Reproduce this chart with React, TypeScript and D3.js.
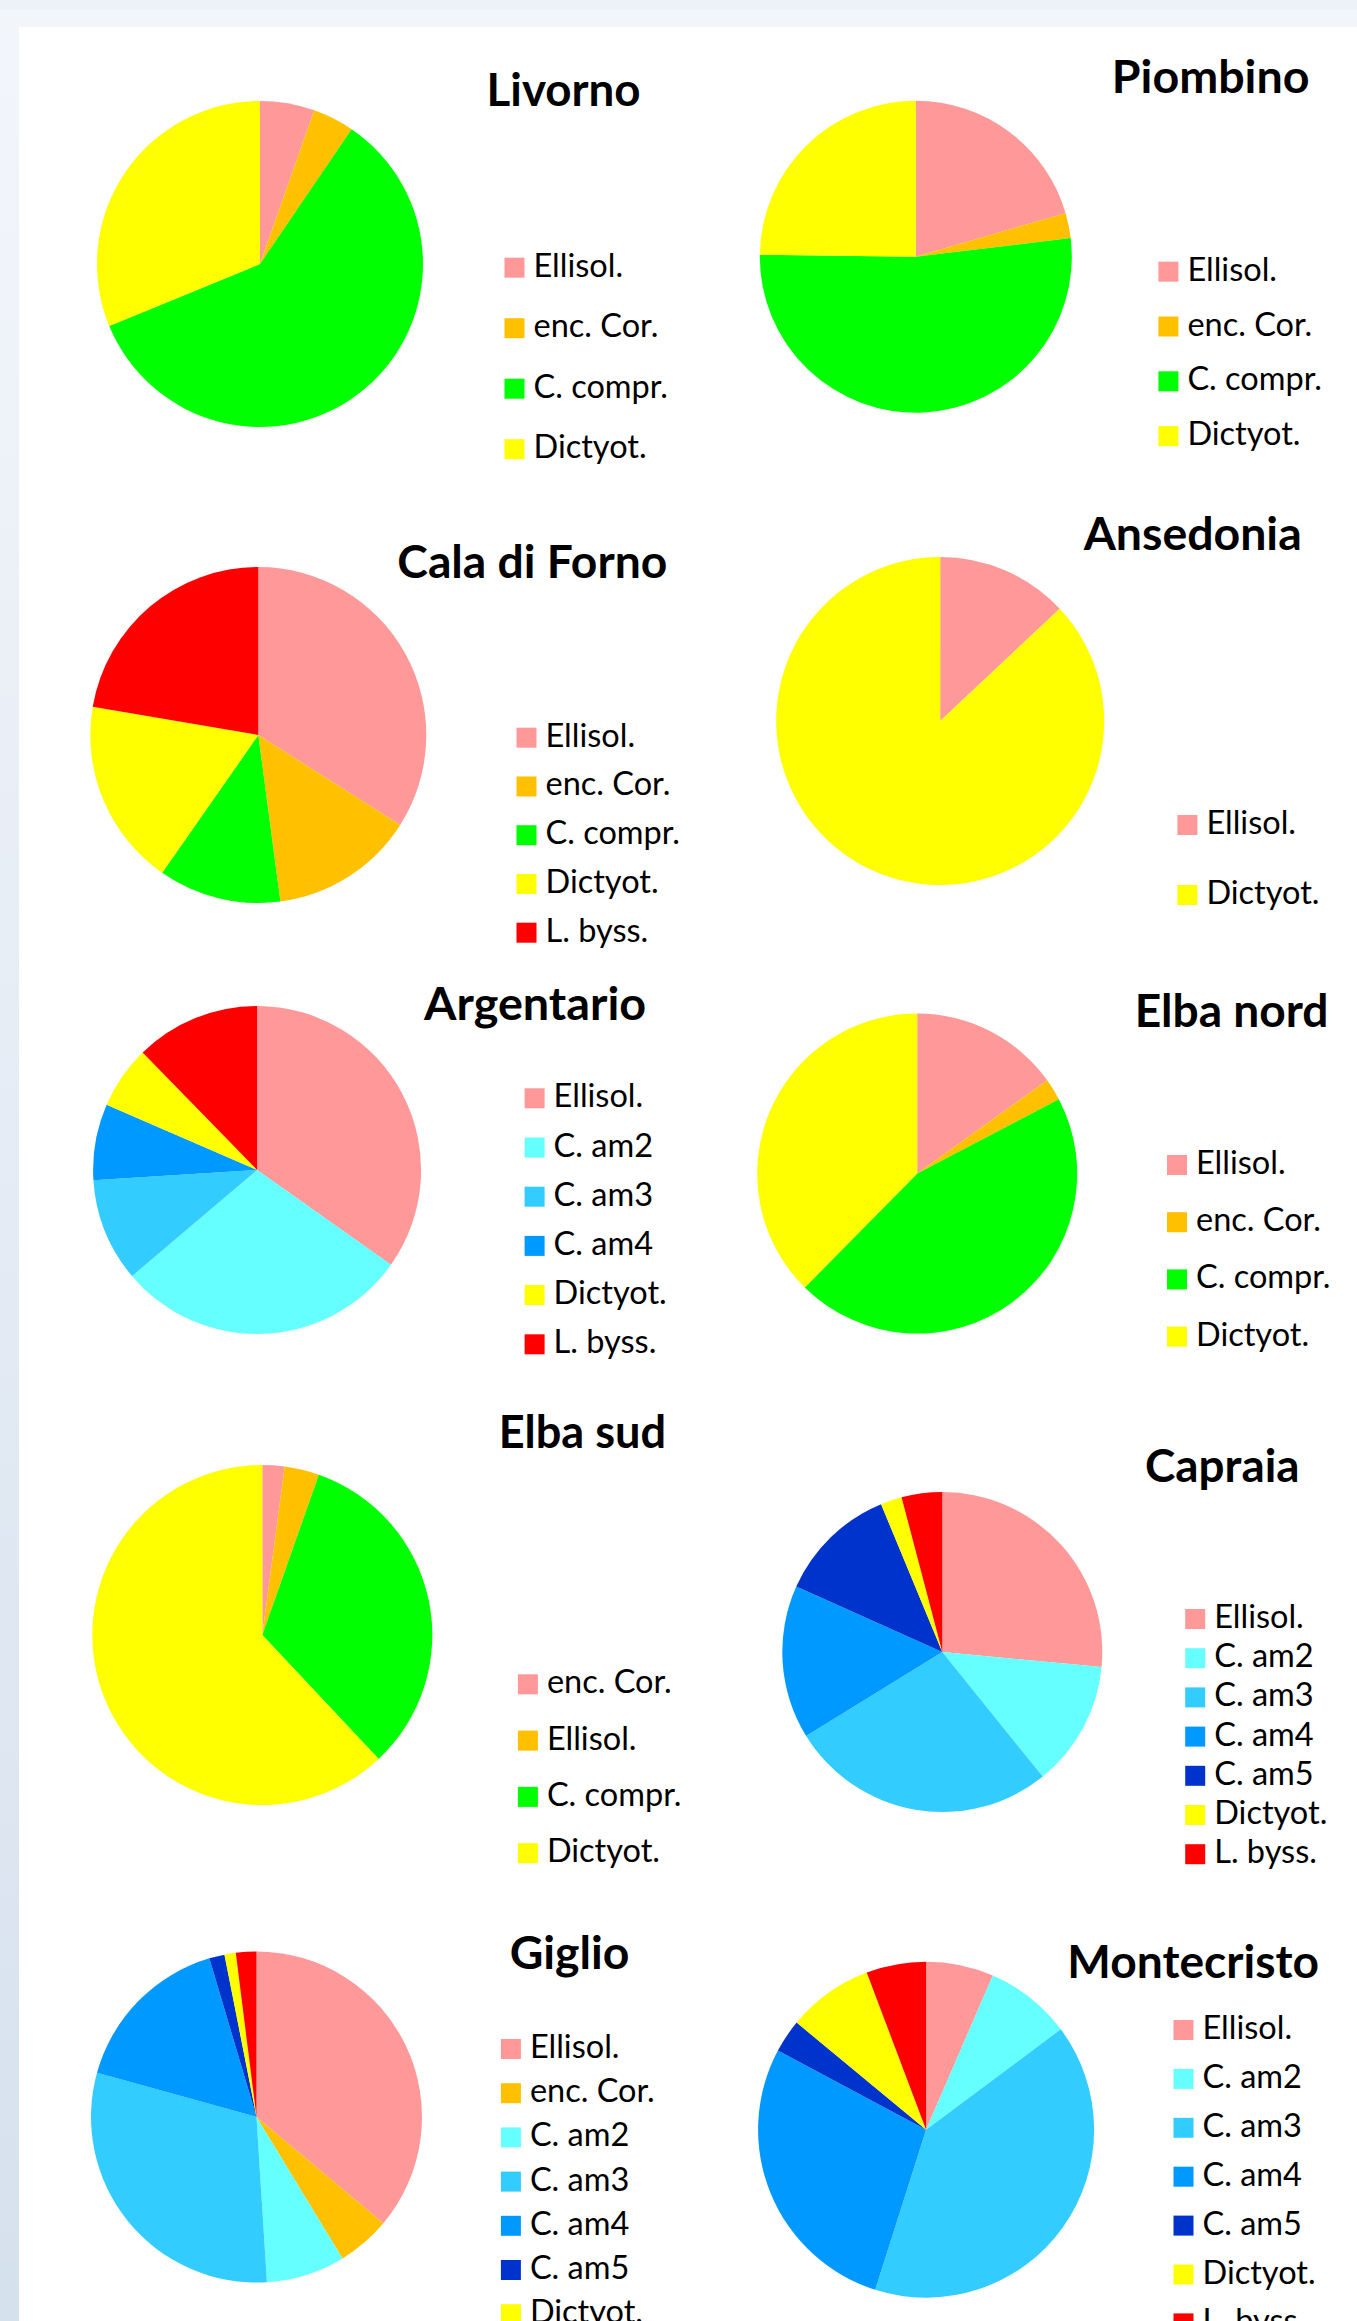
import React from "react";
import * as d3 from "d3";

// slice colours, keyed by taxon code
const colour: Record<string, string> = {
  ell: "#ff9999",
  enc: "#ffc000",
  cc: "#00ff00",
  dic: "#ffff00",
  lb: "#ff0000",
  am2: "#66ffff",
  am3: "#33ccff",
  am4: "#0099ff",
  am5: "#0033cc",
};

// --- data (percent of cover) ---
const livornoKeys = ["ell", "enc", "cc", "dic"];
const livornoLabels = ["Ellisol.", "enc. Cor.", "C. compr.", "Dictyot."];
const livornoValues = [5.4, 4.1, 59.3, 31.2];

const piombinoKeys = ["ell", "enc", "cc", "dic"];
const piombinoLabels = ["Ellisol.", "enc. Cor.", "C. compr.", "Dictyot."];
const piombinoValues = [20.5, 2.6, 52.1, 24.8];

const calaKeys = ["ell", "enc", "cc", "dic", "lb"];
const calaLabels = ["Ellisol.", "enc. Cor.", "C. compr.", "Dictyot.", "L. byss."];
const calaValues = [34.0, 13.9, 11.8, 18.0, 22.3];

const ansedoniaKeys = ["ell", "dic"];
const ansedoniaLabels = ["Ellisol.", "Dictyot."];
const ansedoniaValues = [13.0, 87.0];

const argentarioKeys = ["ell", "am2", "am3", "am4", "dic", "lb"];
const argentarioLabels = ["Ellisol.", "C. am2", "C. am3", "C. am4", "Dictyot.", "L. byss."];
const argentarioValues = [34.8, 29.0, 10.2, 7.5, 6.2, 12.3];

const elbaNordKeys = ["ell", "enc", "cc", "dic"];
const elbaNordLabels = ["Ellisol.", "enc. Cor.", "C. compr.", "Dictyot."];
const elbaNordValues = [15.1, 2.2, 45.1, 37.6];

// labels swapped in the original legend: pink is listed as enc. Cor.
const elbaSudKeys = ["ell", "enc", "cc", "dic"];
const elbaSudLabels = ["enc. Cor.", "Ellisol.", "C. compr.", "Dictyot."];
const elbaSudValues = [2.1, 3.3, 32.6, 62.0];

const capraiaKeys = ["ell", "am2", "am3", "am4", "am5", "dic", "lb"];
const capraiaLabels = ["Ellisol.", "C. am2", "C. am3", "C. am4", "C. am5", "Dictyot.", "L. byss."];
const capraiaValues = [26.5, 12.7, 27.0, 15.5, 12.05, 2.15, 4.1];

const giglioKeys = ["ell", "enc", "am2", "am3", "am4", "am5", "dic", "lb"];
const giglioLabels = ["Ellisol.", "enc. Cor.", "C. am2", "C. am3", "C. am4", "C. am5", "Dictyot.", "L. byss."];
const giglioValues = [36.1, 5.2, 7.7, 30.3, 16.1, 1.5, 1.1, 2.0];

const montecristoKeys = ["ell", "am2", "am3", "am4", "am5", "dic", "lb"];
const montecristoLabels = ["Ellisol.", "C. am2", "C. am3", "C. am4", "C. am5", "Dictyot.", "L. byss."];
const montecristoValues = [6.5, 8.3, 40.1, 27.9, 3.2, 8.25, 5.75];

type Site = {
  title: string;
  keys: string[];
  labels: string[];
  values: number[];
  // layout
  cx: number;
  cy: number;
  r: number;
  tx: number;
  ty: number;
  tw: number;
  lx: number;
  ly: number;
  step: number;
};

const sites: Site[] = [
  { title: "Livorno", keys: livornoKeys, labels: livornoLabels, values: livornoValues,
    cx: 260, cy: 264, r: 163, tx: 486.6, ty: 106, tw: 154, lx: 504.5, ly: 257.7, step: 60.5 },
  { title: "Piombino", keys: piombinoKeys, labels: piombinoLabels, values: piombinoValues,
    cx: 915.8, cy: 256.7, r: 156, tx: 1111.8, ty: 92.5, tw: 197.7, lx: 1158.4, ly: 261.7, step: 54.8 },
  { title: "Cala di Forno", keys: calaKeys, labels: calaLabels, values: calaValues,
    cx: 258.3, cy: 735, r: 168, tx: 397.3, ty: 578.3, tw: 270, lx: 516.5, ly: 727.7, step: 48.75 },
  { title: "Ansedonia", keys: ansedoniaKeys, labels: ansedoniaLabels, values: ansedoniaValues,
    cx: 940.2, cy: 721, r: 164, tx: 1083.7, ty: 550, tw: 218, lx: 1177.4, ly: 815, step: 70 },
  { title: "Argentario", keys: argentarioKeys, labels: argentarioLabels, values: argentarioValues,
    cx: 257.1, cy: 1170, r: 164, tx: 424.1, ty: 1020, tw: 222, lx: 524.6, ly: 1088.3, step: 49.2 },
  { title: "Elba nord", keys: elbaNordKeys, labels: elbaNordLabels, values: elbaNordValues,
    cx: 917.2, cy: 1173.6, r: 160, tx: 1134.7, ty: 1027.3, tw: 193.8, lx: 1167, ly: 1155, step: 57.2 },
  { title: "Elba sud", keys: elbaSudKeys, labels: elbaSudLabels, values: elbaSudValues,
    cx: 262.3, cy: 1635, r: 170, tx: 498.7, ty: 1447.7, tw: 167.3, lx: 517.9, ly: 1674.3, step: 56.3 },
  { title: "Capraia", keys: capraiaKeys, labels: capraiaLabels, values: capraiaValues,
    cx: 942.3, cy: 1652, r: 160, tx: 1145, ty: 1481.7, tw: 154.6, lx: 1185.2, ly: 1609, step: 39.2 },
  { title: "Giglio", keys: giglioKeys, labels: giglioLabels, values: giglioValues,
    cx: 256.5, cy: 2117, r: 165.5, tx: 509.8, ty: 1969.3, tw: 119.7, lx: 500.9, ly: 2039, step: 44.2 },
  { title: "Montecristo", keys: montecristoKeys, labels: montecristoLabels, values: montecristoValues,
    cx: 926.1, cy: 2129.7, r: 168, tx: 1067.3, ty: 1978.3, tw: 251.7, lx: 1173.5, ly: 2020, step: 48.9 },
];

const W = 1357;
const H = 2321;
const FONT = "Lato, 'Open Sans', sans-serif";

const pie = d3
  .pie<number>()
  .sort(null)
  .value((d) => d);

const PieChart = ({ site }: { site: Site }) => {
  const arcs = pie(site.values);
  const arc = d3.arc<d3.PieArcDatum<number>>().innerRadius(0).outerRadius(site.r);

  return (
    <g>
      <g transform={`translate(${site.cx},${site.cy})`}>
        {arcs.map((a, i) => (
          <path key={i} d={arc(a) || ""} fill={colour[site.keys[i]]} />
        ))}
      </g>
      <text
        x={site.tx}
        y={site.ty}
        fontFamily={FONT}
        fontWeight={700}
        fontSize={46}
        textLength={site.tw}
        lengthAdjust="spacingAndGlyphs"
        fill="#000"
      >
        {site.title}
      </text>
      {site.labels.map((label, i) => {
        const y = site.ly + i * site.step;
        return (
          <g key={label + i}>
            <rect x={site.lx} y={y} width={20} height={20} fill={colour[site.keys[i]]} />
            <text x={site.lx + 29} y={y + 19} fontFamily={FONT} fontSize={32.5} fill="#000">
              {label}
            </text>
          </g>
        );
      })}
    </g>
  );
};

export default function App() {
  return (
    <svg
      width={W}
      height={H}
      viewBox={`0 0 ${W} ${H}`}
      style={{ position: "absolute", left: 0, top: 0, display: "block" }}
    >
      <defs>
        <linearGradient id="leftStrip" x1="0" y1="0" x2="0" y2="1">
          <stop offset="0" stopColor="#f3f6fb" />
          <stop offset="1" stopColor="#d6e1ee" />
        </linearGradient>
      </defs>
      <rect x={0} y={0} width={W} height={H} fill="url(#leftStrip)" />
      <rect x={0} y={0} width={W} height={10} fill="#edf2f9" />
      <rect x={0} y={10} width={W} height={17} fill="#f2f5fa" />
      <rect x={19} y={27} width={W - 19} height={H - 27} fill="#ffffff" />
      {sites.map((s) => (
        <PieChart key={s.title} site={s} />
      ))}
    </svg>
  );
}
